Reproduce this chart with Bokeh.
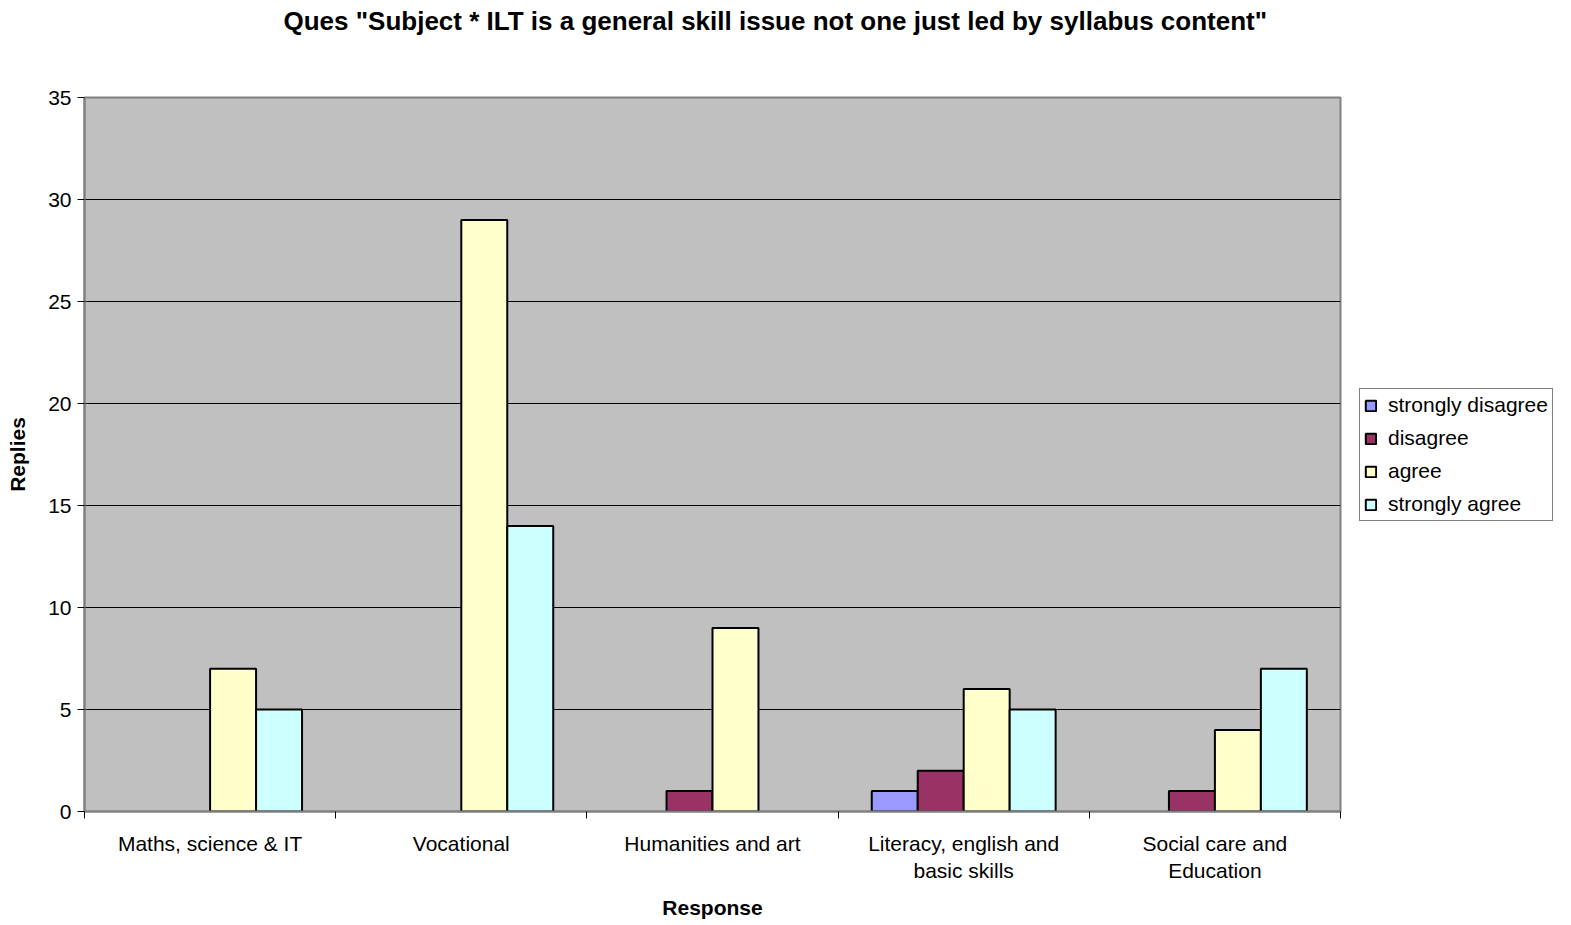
from bokeh.plotting import figure
from bokeh.models import (ColumnDataSource, FixedTicker, Legend, LegendItem,
                          Range1d, Title)
from bokeh.embed import file_html
from bokeh.resources import INLINE

# Survey replies per subject area
categories = [
    "Maths, science & IT",
    "Vocational",
    "Humanities and art",
    "Literacy, english and\nbasic skills",
    "Social care and\nEducation",
]
series_names = ["strongly disagree", "disagree", "agree", "strongly agree"]
strongly_disagree = [0, 0, 0, 1, 0]
disagree = [0, 0, 1, 2, 1]
agree = [7, 29, 9, 6, 4]
strongly_agree = [5, 14, 0, 5, 7]
y_ticks = [0, 5, 10, 15, 20, 25, 30, 35]

series_values = [strongly_disagree, disagree, agree, strongly_agree]
colors = ["#9999FF", "#993366", "#FFFFCC", "#CCFFFF"]

FONT = "Liberation Sans"
W, H = 1571, 925

p = figure(width=W, height=H, frame_width=1256, frame_height=714,
           output_backend="svg", toolbar_location=None,
           x_range=Range1d(0, len(categories)), y_range=Range1d(0, 35),
           min_border_left=84, min_border_right=231, min_border_top=97,
           min_border_bottom=114, title=None)

p.background_fill_color = "#C0C0C0"
p.border_fill_color = "white"
p.outline_line_color = "#808080"
p.outline_line_width = 2

bar_w = 0.183
n = len(series_names)
legend_items = []
for k, (name, vals, col) in enumerate(zip(series_names, series_values, colors)):
    off = (k - (n - 1) / 2) * bar_w
    xs = [i + 0.5 + off for i, v in enumerate(vals) if v > 0]
    ys = [v for v in vals if v > 0]
    src = ColumnDataSource(dict(x=xs, top=ys))
    r = p.vbar(x="x", top="top", bottom=0, width=bar_w, source=src,
               fill_color=col, line_color="black", line_width=2)
    legend_items.append(LegendItem(label=name, renderers=[r]))

# x axis: labels under each category, ticks on category boundaries
xa = p.xaxis[0]
xa.ticker = FixedTicker(ticks=[i + 0.5 for i in range(len(categories))],
                        minor_ticks=list(range(len(categories) + 1)))
xa.major_label_overrides = {i + 0.5: c for i, c in enumerate(categories)}
xa.major_tick_out = 0
xa.major_tick_in = 0
xa.minor_tick_out = 7
xa.minor_tick_in = 0
xa.minor_tick_line_color = "black"
xa.axis_line_color = "#808080"
xa.axis_line_width = 2
xa.major_label_text_font = FONT
xa.major_label_text_font_size = "21px"
xa.major_label_text_color = "black"
xa.major_label_standoff = 13
xa.axis_label = "Response"
xa.axis_label_text_font = FONT
xa.axis_label_text_font_size = "21px"
xa.axis_label_text_font_style = "bold"
xa.axis_label_text_color = "black"
xa.axis_label_standoff = 11

ya = p.yaxis[0]
ya.ticker = FixedTicker(ticks=y_ticks)
ya.minor_tick_line_color = None
ya.major_tick_out = 7
ya.major_tick_in = 0
ya.major_tick_line_color = "black"
ya.axis_line_color = "#808080"
ya.axis_line_width = 2
ya.major_label_text_font = FONT
ya.major_label_text_font_size = "21px"
ya.major_label_text_color = "black"
ya.major_label_standoff = 6
ya.axis_label = "Replies"
ya.axis_label_text_font = FONT
ya.axis_label_text_font_size = "21px"
ya.axis_label_text_font_style = "bold"
ya.axis_label_text_color = "black"
ya.axis_label_standoff = 16

p.xgrid.grid_line_color = None
p.ygrid.grid_line_color = "black"
p.ygrid.grid_line_width = 1

# blank band between the chart title and the plot area
gap = Title(text=" ", text_font=FONT, text_font_size="26px", standoff=30)
p.add_layout(gap, "above")
title = Title(text='Ques "Subject * ILT is a general skill issue not one just led by syllabus content"',
              align="left", offset=199, standoff=0, text_font=FONT,
              text_font_size="26px", text_font_style="bold", text_color="black")
p.add_layout(title, "above")

# legend sits to the right of the plot area
legend = Legend(items=legend_items, location=(19, 290),
                border_line_color="black", border_line_width=1,
                background_fill_color="white", background_fill_alpha=1,
                label_text_font=FONT, label_text_font_size="21px",
                label_text_color="black",
                glyph_width=13, glyph_height=13, label_standoff=11,
                spacing=9, padding=4, label_height=24, margin=0)
p.add_layout(legend, "right")

open("out.html", "w").write(file_html(p, INLINE))
